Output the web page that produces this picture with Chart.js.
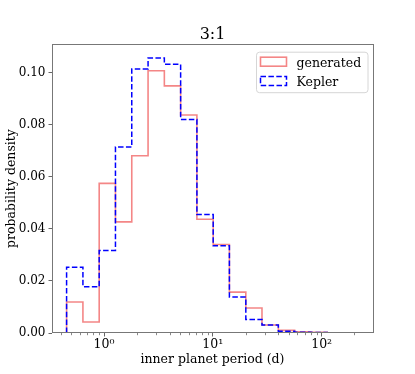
<!DOCTYPE html>
<html>
<head>
<meta charset="utf-8">
<script src="https://cdn.jsdelivr.net/npm/chart.js@4/dist/chart.umd.min.js"></script>
<style>
  html, body { margin: 0; padding: 0; background: #fff; }
  #c { display: block; }
</style>
</head>
<body>
<canvas id="c" width="415" height="374"></canvas>
<script>
// Bin edges (inner planet period, days) - log spaced
const binEdges = [0.453, 0.640, 0.903, 1.274, 1.799, 2.54, 3.585, 5.06, 7.14, 10.08, 14.2, 20.1, 28.3, 40.0, 56.5, 79.7, 112.5, 158.8, 224];
// Probability density per bin
const generatedValues = [0.0119, 0.0042, 0.0575, 0.0427, 0.0681, 0.1008, 0.0950, 0.0838, 0.0437, 0.0340, 0.0157, 0.0096, 0.0031, 0.0010, 0.0005, 0.0003, 0.0001, 0.0001];
const keplerValues    = [0.0253, 0.0178, 0.0317, 0.0715, 0.1015, 0.1057, 0.1033, 0.0821, 0.0455, 0.0335, 0.0138, 0.0052, 0.0031, 0.0007, 0.0003, 0.0002, 0.0001, 0.0001];
const seriesLabels = ['generated', 'Kepler'];
const xMajorTicks = [1, 10, 100];
const xMinorTicks = [0.4, 0.5, 0.6, 0.7, 0.8, 0.9, 2, 3, 4, 5, 6, 7, 8, 9, 20, 30, 40, 50, 60, 70, 80, 90, 200];
const yTicks = [0, 0.02, 0.04, 0.06, 0.08, 0.10];
const titleText = '3:1';
const xTitle = 'inner planet period (d)';
const yTitle = 'probability density';

const FONT = "'DejaVu Serif', 'Liberation Serif', serif";
const RED = 'rgb(244,134,134)';
const BLUE = '#0000ff';

function stepPoints(edges, vals) {
  const pts = [{x: edges[0], y: 0}];
  for (let i = 0; i < vals.length; i++) {
    pts.push({x: edges[i], y: vals[i]});
    pts.push({x: edges[i + 1], y: vals[i]});
  }
  pts.push({x: edges[edges.length - 1], y: 0});
  return pts;
}

const supers = {'0':'⁰','1':'¹','2':'²','3':'³'};
function powLabel(v) {
  const e = Math.round(Math.log10(v));
  return '10' + String(e).split('').map(c => supers[c] || c).join('');
}

const framePlugin = {
  id: 'framePlugin',
  afterDraw(chart) {
    const ctx = chart.ctx;
    const a = chart.chartArea;
    const xs = chart.scales.x;
    ctx.save();
    // minor ticks
    ctx.strokeStyle = '#555';
    ctx.lineWidth = 0.7;
    xMinorTicks.forEach(v => {
      const px = Math.round(xs.getPixelForValue(v)) + 0.5;
      ctx.beginPath();
      ctx.moveTo(px, a.bottom);
      ctx.lineTo(px, a.bottom + 2.2);
      ctx.stroke();
    });
    // frame
    ctx.strokeStyle = '#777';
    ctx.lineWidth = 1;
    ctx.strokeRect(Math.round(a.left) + 0.5, Math.round(a.top) + 0.5,
                   Math.round(a.right - a.left), Math.round(a.bottom - a.top) - 1);
    // legend
    const lx = a.right - 117, ly = a.top + 7.5, lw = 111.5, lh = 40.5;
    ctx.beginPath();
    ctx.roundRect(lx + 0.5, ly + 0.5, lw, lh, 3);
    ctx.fillStyle = 'rgba(255,255,255,0.8)';
    ctx.fill();
    ctx.strokeStyle = '#d6d6d6';
    ctx.lineWidth = 1;
    ctx.stroke();
    const ds = chart.data.datasets;
    ds.forEach((d, i) => {
      const ry = ly + 5.5 + i * 19.3;
      ctx.strokeStyle = d.borderColor;
      ctx.lineWidth = d.borderWidth;
      ctx.setLineDash(d.borderDash || []);
      ctx.strokeRect(lx + 4.5, ry, 26, 9);
      ctx.setLineDash([]);
      ctx.fillStyle = '#000';
      ctx.font = '12.5px ' + FONT;
      ctx.textBaseline = 'alphabetic';
      ctx.textAlign = 'left';
      ctx.fillText(d.label, lx + 40.5, ry + 9.3);
    });
    ctx.restore();
  }
};

Chart.defaults.font.family = FONT;
Chart.defaults.color = '#000';

new Chart(document.getElementById('c'), {
  type: 'line',
  data: {
    datasets: [
      {
        label: seriesLabels[0],
        data: stepPoints(binEdges, generatedValues),
        borderColor: RED,
        backgroundColor: 'rgba(0,0,0,0)',
        borderWidth: 1.6,
        pointRadius: 0,
        fill: false,
        tension: 0,
        order: 1
      },
      {
        label: seriesLabels[1],
        data: stepPoints(binEdges, keplerValues),
        borderColor: BLUE,
        backgroundColor: 'rgba(0,0,0,0)',
        borderWidth: 1.5,
        borderDash: [5.5, 2.4],
        pointRadius: 0,
        fill: false,
        tension: 0,
        order: 0
      }
    ]
  },
  options: {
    responsive: false,
    animation: false,
    devicePixelRatio: 1,
    layout: { padding: { left: 0, right: 42, top: 0, bottom: 0 } },
    plugins: {
      legend: { display: false },
      tooltip: { enabled: false },
      title: {
        display: true,
        text: titleText,
        fullSize: false,
        color: '#000',
        font: { family: FONT, size: 16, weight: 'normal', lineHeight: 1.2 },
        padding: { top: 25, bottom: 0 }
      }
    },
    scales: {
      x: {
        type: 'logarithmic',
        min: Math.pow(10, -0.478),
        max: Math.pow(10, 2.472),
        bounds: 'data',
        afterFit(s) { s.height = 41; },
        afterBuildTicks(s) {
          s.ticks = xMajorTicks.map(v => ({ value: v, major: true }));
        },
        border: { display: false },
        grid: {
          display: true,
          drawOnChartArea: false,
          drawTicks: true,
          tickLength: 3.5,
          tickColor: '#555',
          tickWidth: 0.9
        },
        ticks: {
          autoSkip: false,
          maxRotation: 0,
          padding: 1,
          font: { size: 12.5 },
          color: '#000',
          callback: (v) => powLabel(v)
        },
        title: {
          display: true,
          text: xTitle,
          font: { size: 12.5 },
          color: '#000',
          padding: { top: 0, bottom: 7 }
        }
      },
      y: {
        type: 'linear',
        min: 0,
        max: 0.111,
        afterFit(s) { s.width = 52; },
        afterBuildTicks(s) {
          s.ticks = yTicks.map(v => ({ value: v }));
        },
        border: { display: false },
        grid: {
          display: true,
          drawOnChartArea: false,
          drawTicks: true,
          tickLength: 3.5,
          tickColor: '#555',
          tickWidth: 0.9
        },
        ticks: {
          autoSkip: false,
          padding: 3,
          font: { size: 12 },
          color: '#000',
          callback: (v) => Number(v).toFixed(2)
        },
        title: {
          display: true,
          text: yTitle,
          font: { size: 12.5 },
          color: '#000',
          padding: { top: 4, bottom: 0 }
        }
      }
    }
  },
  plugins: [framePlugin]
});
</script>
</body>
</html>
